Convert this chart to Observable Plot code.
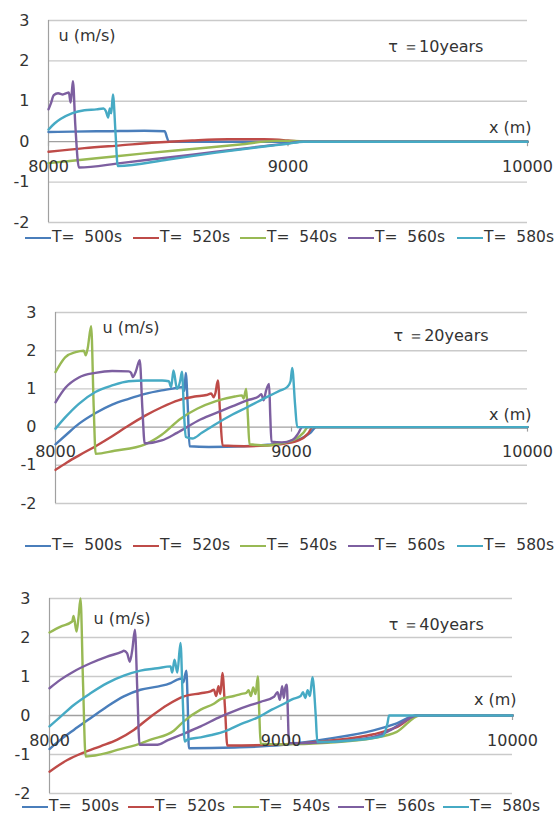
<!DOCTYPE html>
<html><head><meta charset="utf-8">
<script src="https://cdn.jsdelivr.net/npm/d3@7"></script>
<script src="https://cdn.jsdelivr.net/npm/@observablehq/plot@0.6"></script>
<style>
body{margin:0;background:#fff;}
#wrap{position:relative;width:558px;height:820px;overflow:hidden;font-family:"DejaVu Sans",sans-serif;background:#fff;}
.panel{position:absolute;left:0;}
.legend{position:absolute;left:0;width:600px;height:18px;font-size:15.5px;color:#333;white-space:pre;}
.item{position:absolute;top:0;}
.sw{position:absolute;top:8px;left:0;width:26px;height:0;border-top:2.5px solid;}
.lt{position:absolute;top:0;left:27px;line-height:17px;}
</style></head><body><div id="wrap"></div>
<script>
// ---- categories / ticks ----
const seriesNames = ["T=  500s","T=  520s","T=  540s","T=  560s","T=  580s"];
const seriesColors = ["#4a7ebb","#be4b48","#98b954","#7d5fa0","#46aac4"];
const yTicks = [-2,-1,0,1,2,3];
const xTicks = [8000,9000,10000];
const panelTitles = ["τ ＝10years","τ ＝20years","τ ＝40years"];

// ---- series values: [x (m), u (m/s)] ----
const tau10_T500 = [[8000,0.24],[8100,0.25],[8250,0.26],[8400,0.27],[8485,0.26],[8495,0.1],[8502,0],[10000,0]];
const tau10_T520 = [[8000,-0.25],[8150,-0.16],[8300,-0.09],[8450,-0.02],[8600,0.03],[8750,0.06],[8900,0.06],[9000,0.03],[9060,0],[10000,0]];
const tau10_T540 = [[8000,-0.53],[8200,-0.41],[8400,-0.29],[8600,-0.18],[8800,-0.07],[8950,0.02],[9030,0.02],[9070,0],[10000,0]];
const tau10_T560 = [[8000,0.8],[8010,0.95],[8022,1.15],[8040,1.2],[8060,1.17],[8075,1.2],[8085,1.22],[8092,0.97],[8097,1.2],[8102,1.5],[8112,0.4],[8127,-0.64],[8300,-0.53],[8500,-0.39],[8700,-0.25],[8900,-0.11],[9000,-0.04],[9050,0],[10000,0]];
const tau10_T580 = [[8000,0.3],[8025,0.45],[8050,0.56],[8100,0.71],[8150,0.78],[8200,0.8],[8230,0.82],[8240,0.75],[8249,0.6],[8256,0.82],[8262,0.7],[8269,1.17],[8280,0.2],[8289,-0.6],[8500,-0.44],[8700,-0.27],[8900,-0.12],[9000,-0.05],[9065,0],[10000,0]];

const tau20_T500 = [[8000,-0.45],[8042,-0.22],[8100,0.09],[8170,0.37],[8240,0.59],[8310,0.74],[8380,0.87],[8450,0.96],[8520,1.03],[8540,1.05],[8546,0.95],[8552,1.42],[8560,0.6],[8568,-0.5],[8650,-0.52],[8800,-0.5],[8900,-0.46],[8980,-0.4],[9040,-0.3],[9080,-0.15],[9105,0],[10000,0]];
const tau20_T520 = [[8000,-1.12],[8050,-0.92],[8100,-0.74],[8170,-0.5],[8240,-0.24],[8300,0.0],[8380,0.3],[8450,0.52],[8520,0.7],[8590,0.8],[8640,0.84],[8660,0.88],[8670,0.78],[8678,0.9],[8688,1.22],[8698,0.3],[8708,-0.48],[8800,-0.5],[8950,-0.45],[9030,-0.35],[9070,-0.17],[9090,0],[10000,0]];
const tau20_T540 = [[8000,1.44],[8020,1.65],[8042,1.83],[8085,1.96],[8120,2.0],[8128,1.88],[8136,2.05],[8151,2.64],[8162,0.5],[8170,-0.7],[8250,-0.62],[8380,-0.45],[8450,-0.2],[8530,0.22],[8600,0.48],[8680,0.68],[8760,0.8],[8790,0.83],[8797,0.75],[8808,1.0],[8815,0.3],[8822,-0.45],[8900,-0.48],[8960,-0.42],[9020,-0.3],[9050,-0.15],[9070,0],[10000,0]];
const tau20_T560 = [[8000,0.65],[8042,1.03],[8099,1.3],[8169,1.42],[8240,1.47],[8310,1.46],[8320,1.42],[8328,1.31],[8340,1.45],[8357,1.75],[8368,0.5],[8378,-0.43],[8450,-0.35],[8515,-0.15],[8614,0.2],[8700,0.42],[8760,0.57],[8812,0.7],[8860,0.8],[8872,0.86],[8882,0.7],[8892,0.95],[8905,1.13],[8910,0.3],[8915,-0.38],[8960,-0.4],[9005,-0.33],[9030,-0.15],[9045,0],[10000,0]];
const tau20_T580 = [[8000,-0.04],[8042,0.26],[8099,0.61],[8169,0.92],[8240,1.09],[8310,1.2],[8381,1.22],[8452,1.22],[8480,1.2],[8490,1.05],[8500,1.48],[8515,1.0],[8528,1.2],[8536,1.45],[8545,0.3],[8552,-0.26],[8580,-0.3],[8620,-0.15],[8671,0.05],[8750,0.33],[8812,0.52],[8897,0.79],[8953,0.96],[8982,1.05],[8996,1.2],[9003,1.55],[9015,0.6],[9024,0],[10000,0]];

const tau40_T500 = [[8000,-0.86],[8048,-0.62],[8105,-0.37],[8177,-0.07],[8249,0.23],[8321,0.49],[8393,0.66],[8466,0.74],[8523,0.83],[8552,0.92],[8570,0.95],[8578,0.85],[8591,1.15],[8597,0.3],[8602,-0.84],[8800,-0.82],[9000,-0.76],[9200,-0.6],[9400,-0.38],[9500,-0.2],[9585,0],[10000,0]];
const tau40_T520 = [[8000,-1.44],[8077,-1.14],[8148,-0.95],[8220,-0.79],[8293,-0.62],[8364,-0.37],[8437,-0.03],[8509,0.27],[8581,0.49],[8653,0.57],[8696,0.62],[8710,0.66],[8720,0.5],[8730,0.75],[8738,0.55],[8747,1.09],[8758,0.2],[8768,-0.77],[9000,-0.74],[9200,-0.65],[9400,-0.48],[9500,-0.3],[9590,0],[10000,0]];
const tau40_T540 = [[8000,2.13],[8048,2.28],[8098,2.41],[8104,2.55],[8117,2.15],[8125,2.5],[8134,3.0],[8145,0.8],[8156,-1.05],[8249,-0.96],[8293,-0.88],[8393,-0.72],[8437,-0.62],[8537,-0.39],[8580,-0.15],[8653,0.15],[8710,0.3],[8739,0.42],[8797,0.5],[8826,0.55],[8850,0.58],[8860,0.65],[8870,0.5],[8880,0.72],[8890,0.55],[8900,1.0],[8906,0.1],[8912,-0.72],[9000,-0.74],[9200,-0.7],[9400,-0.58],[9500,-0.42],[9600,0],[10000,0]];
const tau40_T560 = [[8000,0.7],[8048,0.92],[8105,1.13],[8177,1.34],[8249,1.51],[8314,1.64],[8321,1.66],[8335,1.6],[8347,1.38],[8358,1.7],[8369,2.2],[8379,0.7],[8389,-0.75],[8466,-0.75],[8509,-0.64],[8566,-0.5],[8653,-0.28],[8739,-0.03],[8800,0.12],[8870,0.27],[8912,0.35],[8970,0.48],[8985,0.6],[8995,0.4],[9005,0.75],[9012,0.45],[9018,0.7],[9025,0.79],[9030,0.0],[9034,-0.71],[9200,-0.68],[9400,-0.55],[9480,-0.35],[9520,-0.2],[9590,0],[10000,0]];
const tau40_T580 = [[8000,-0.28],[8048,-0.03],[8105,0.27],[8177,0.57],[8249,0.83],[8321,1.02],[8393,1.15],[8466,1.21],[8523,1.26],[8530,1.1],[8540,1.43],[8552,1.1],[8566,1.86],[8575,0.5],[8584,-0.67],[8595,-0.62],[8653,-0.56],[8700,-0.5],[8760,-0.4],[8826,-0.22],[8900,-0.05],[8960,0.15],[9013,0.3],[9050,0.42],[9085,0.5],[9095,0.6],[9105,0.45],[9115,0.65],[9125,0.5],[9136,0.98],[9150,0.0],[9157,-0.68],[9300,-0.64],[9440,-0.52],[9460,-0.2],[9467,0],[10000,0]];

// ---- layout ----
const panels = [
  {series:[tau10_T500,tau10_T520,tau10_T540,tau10_T560,tau10_T580], top:0, height:232, mt:20, mb:10, ml:48, mr:31,
   uAt:[8042,2.62], tauAt:[9419,2.35], xLabY:0.34, legendTop:229, legendX:[25,133,240,348,457]},
  {series:[tau20_T500,tau20_T520,tau20_T540,tau20_T560,tau20_T580], top:300, height:212, mt:12, mb:9, ml:55, mr:31,
   uAt:[8199,2.6], tauAt:[9432,2.4], xLabY:0.33, legendTop:537, legendX:[25,133,240,348,457]},
  {series:[tau40_T500,tau40_T520,tau40_T540,tau40_T560,tau40_T580], top:585, height:220, mt:13, mb:12, ml:49, mr:46,
   uAt:[8190,2.49], tauAt:[9465,2.33], xLabY:0.4, legendTop:798, legendX:[22,128,233,338,443]}
];

const wrap = document.getElementById("wrap");
const gridColor = "#cacaca", axisColor = "#a0a0a0", textColor = "#333";

panels.forEach((p, pi) => {
  const lines = p.series.map((s, i) =>
    Plot.line(s.map(([x, u]) => ({x, u, T: seriesNames[i]})),
      {x: "x", y: "u", stroke: seriesColors[i], strokeWidth: 2.4, curve: "monotone-x", strokeLinejoin: "round"}));
  const chart = Plot.plot({
    width: 558, height: p.height,
    marginTop: p.mt, marginBottom: p.mb, marginLeft: p.ml, marginRight: p.mr,
    x: {domain: [8000, 10000], axis: null},
    y: {domain: [-2, 3], axis: null},
    style: {background: "transparent", fontFamily: "DejaVu Sans, sans-serif", fontSize: "16px", color: textColor, overflow: "visible"},
    marks: [
      Plot.ruleY(yTicks.filter(d => d !== 0), {y: d => d, stroke: gridColor, strokeWidth: 1.4}),
      Plot.ruleX([8000], {x: d => d, stroke: axisColor, strokeWidth: 1.2}),
      Plot.ruleY([0], {y: d => d, stroke: axisColor, strokeWidth: 1.3}),
      Plot.ruleX(xTicks, {x: d => d, y1: () => 0, y2: () => 0, insetBottom: -5, stroke: axisColor, strokeWidth: 1.2}),
      ...lines,
      Plot.text(yTicks, {y: d => d, frameAnchor: "left", textAnchor: "end", dx: -19, text: d => String(d), fontSize: 16}),
      Plot.text(xTicks, {x: d => d, y: () => 0, dy: 25, text: d => String(d), fontSize: 16}),
      Plot.text(["u (m/s)"], {x: () => p.uAt[0], y: () => p.uAt[1], textAnchor: "start", fontSize: 16}),
      Plot.text([panelTitles[pi]], {x: () => p.tauAt[0], y: () => p.tauAt[1], textAnchor: "start", fontSize: 16}),
      Plot.text(["x (m)"], {frameAnchor: "right", y: () => p.xLabY, textAnchor: "end", dx: 4, fontSize: 16})
    ]
  });
  const div = document.createElement("div");
  div.className = "panel";
  div.style.top = p.top + "px";
  div.appendChild(chart);
  wrap.appendChild(div);

  const leg = document.createElement("div");
  leg.className = "legend";
  leg.style.top = p.legendTop + "px";
  seriesNames.forEach((name, i) => {
    const it = document.createElement("div");
    it.className = "item";
    it.style.left = p.legendX[i] + "px";
    const sw = document.createElement("div");
    sw.className = "sw";
    sw.style.borderTopColor = seriesColors[i];
    const lt = document.createElement("div");
    lt.className = "lt";
    lt.textContent = name;
    it.appendChild(sw); it.appendChild(lt);
    leg.appendChild(it);
  });
  wrap.appendChild(leg);
});
</script></body></html>
